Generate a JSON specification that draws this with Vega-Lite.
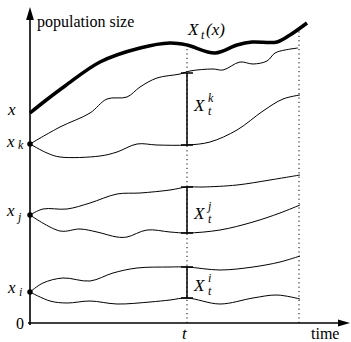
{
  "$schema": "https://vega.github.io/schema/vega-lite/v6.json",
  "width": 351,
  "height": 342,
  "autosize": {"type": "none"},
  "padding": 0,
  "config": {"view": {"stroke": null}, "text": {"font": "'Liberation Serif', 'DejaVu Serif', serif"}},
  "datasets": {
    "paths": [
      {"series": "k_up", "time": 0, "pop": 179}, {"series": "k_up", "time": 30, "pop": 196}, {"series": "k_up", "time": 60, "pop": 210}, {"series": "k_up", "time": 77, "pop": 224}, {"series": "k_up", "time": 97, "pop": 226}, {"series": "k_up", "time": 110, "pop": 236}, {"series": "k_up", "time": 127, "pop": 245}, {"series": "k_up", "time": 150, "pop": 249}, {"series": "k_up", "time": 160, "pop": 252}, {"series": "k_up", "time": 183, "pop": 254}, {"series": "k_up", "time": 193, "pop": 253}, {"series": "k_up", "time": 210, "pop": 261}, {"series": "k_up", "time": 223, "pop": 259}, {"series": "k_up", "time": 237, "pop": 262}, {"series": "k_up", "time": 245, "pop": 270}, {"series": "k_up", "time": 255, "pop": 273}, {"series": "k_up", "time": 268, "pop": 275},
      {"series": "k_lo", "time": 0, "pop": 179}, {"series": "k_lo", "time": 17, "pop": 170}, {"series": "k_lo", "time": 30, "pop": 166}, {"series": "k_lo", "time": 70, "pop": 167}, {"series": "k_lo", "time": 87, "pop": 171}, {"series": "k_lo", "time": 107, "pop": 179}, {"series": "k_lo", "time": 127, "pop": 178}, {"series": "k_lo", "time": 157, "pop": 178}, {"series": "k_lo", "time": 180, "pop": 181}, {"series": "k_lo", "time": 207, "pop": 193}, {"series": "k_lo", "time": 233, "pop": 212}, {"series": "k_lo", "time": 253, "pop": 224}, {"series": "k_lo", "time": 270, "pop": 228},
      {"series": "j_up", "time": 0, "pop": 108}, {"series": "j_up", "time": 13, "pop": 114}, {"series": "j_up", "time": 37, "pop": 114}, {"series": "j_up", "time": 60, "pop": 120}, {"series": "j_up", "time": 87, "pop": 129}, {"series": "j_up", "time": 110, "pop": 130}, {"series": "j_up", "time": 140, "pop": 133}, {"series": "j_up", "time": 157, "pop": 136}, {"series": "j_up", "time": 173, "pop": 136}, {"series": "j_up", "time": 207, "pop": 138}, {"series": "j_up", "time": 240, "pop": 143}, {"series": "j_up", "time": 270, "pop": 148},
      {"series": "j_lo", "time": 0, "pop": 108}, {"series": "j_lo", "time": 30, "pop": 92}, {"series": "j_lo", "time": 50, "pop": 94}, {"series": "j_lo", "time": 67, "pop": 91}, {"series": "j_lo", "time": 87, "pop": 86}, {"series": "j_lo", "time": 97, "pop": 86}, {"series": "j_lo", "time": 117, "pop": 93}, {"series": "j_lo", "time": 140, "pop": 91}, {"series": "j_lo", "time": 157, "pop": 90}, {"series": "j_lo", "time": 190, "pop": 93}, {"series": "j_lo", "time": 223, "pop": 101}, {"series": "j_lo", "time": 250, "pop": 110}, {"series": "j_lo", "time": 270, "pop": 118},
      {"series": "i_up", "time": 0, "pop": 31}, {"series": "i_up", "time": 13, "pop": 40}, {"series": "i_up", "time": 33, "pop": 45}, {"series": "i_up", "time": 60, "pop": 42}, {"series": "i_up", "time": 83, "pop": 50}, {"series": "i_up", "time": 107, "pop": 55}, {"series": "i_up", "time": 140, "pop": 56}, {"series": "i_up", "time": 157, "pop": 56}, {"series": "i_up", "time": 190, "pop": 53}, {"series": "i_up", "time": 223, "pop": 56}, {"series": "i_up", "time": 250, "pop": 61}, {"series": "i_up", "time": 270, "pop": 67},
      {"series": "i_lo", "time": 0, "pop": 31}, {"series": "i_lo", "time": 20, "pop": 22}, {"series": "i_lo", "time": 37, "pop": 20}, {"series": "i_lo", "time": 60, "pop": 22}, {"series": "i_lo", "time": 87, "pop": 19}, {"series": "i_lo", "time": 120, "pop": 21}, {"series": "i_lo", "time": 140, "pop": 23}, {"series": "i_lo", "time": 157, "pop": 25}, {"series": "i_lo", "time": 190, "pop": 19}, {"series": "i_lo", "time": 223, "pop": 25}, {"series": "i_lo", "time": 247, "pop": 28}, {"series": "i_lo", "time": 270, "pop": 24}
    ],
    "thick": [
      {"time": 0, "pop": 210}, {"time": 15, "pop": 222}, {"time": 35, "pop": 237}, {"time": 70, "pop": 261}, {"time": 110, "pop": 275}, {"time": 140, "pop": 280}, {"time": 157, "pop": 278}, {"time": 185, "pop": 270}, {"time": 207, "pop": 278}, {"time": 222, "pop": 281}, {"time": 247, "pop": 281}, {"time": 260, "pop": 288}, {"time": 277, "pop": 300}
    ],
    "bars": [
      {"name": "k", "time": 157, "lo": 178, "hi": 250},
      {"name": "j", "time": 157, "lo": 90, "hi": 136},
      {"name": "i", "time": 157, "lo": 25, "hi": 56}
    ],
    "starts": [
      {"name": "k", "time": 0, "pop": 179},
      {"name": "j", "time": 0, "pop": 108},
      {"name": "i", "time": 0, "pop": 31}
    ],
    "guides": [
      {"time": 157, "bottom": 0, "top": 276},
      {"time": 269, "bottom": 0, "top": 293}
    ],
    "axes": [
      {"axis": "population", "x1": 0, "x2": 0, "y1": -2, "y2": 305},
      {"axis": "time", "x1": -2, "x2": 309, "y1": 0, "y2": 0}
    ],
    "labels": [
      {"text": "population size", "time": 7, "pop": 296, "role": "roman"},
      {"text": "0", "time": -14, "pop": -6, "role": "roman"},
      {"text": "time", "time": 281, "pop": -16, "role": "roman"},
      {"text": "t", "time": 152, "pop": -16, "role": "math"},
      {"text": "x", "time": -22, "pop": 208, "role": "math"},
      {"text": "x", "time": -23, "pop": 176, "role": "math"},
      {"text": "k", "time": -12, "pop": 174, "role": "script"},
      {"text": "x", "time": -23, "pop": 107, "role": "math"},
      {"text": "j", "time": -12, "pop": 102, "role": "script"},
      {"text": "x", "time": -22, "pop": 30, "role": "math"},
      {"text": "i", "time": -11, "pop": 27, "role": "script"},
      {"text": "X", "time": 158, "pop": 288, "role": "math"},
      {"text": "t", "time": 171, "pop": 284, "role": "script"},
      {"text": "(x)", "time": 176, "pop": 288, "role": "math"},
      {"text": "X", "time": 164, "pop": 212, "role": "math"},
      {"text": "k", "time": 178, "pop": 221, "role": "script"},
      {"text": "t", "time": 178, "pop": 208, "role": "script"},
      {"text": "X", "time": 164, "pop": 104, "role": "math"},
      {"text": "j", "time": 178, "pop": 113, "role": "script"},
      {"text": "t", "time": 178, "pop": 100, "role": "script"},
      {"text": "X", "time": 164, "pop": 32, "role": "math"},
      {"text": "i", "time": 178, "pop": 41, "role": "script"},
      {"text": "t", "time": 178, "pop": 28, "role": "script"}
    ],
    "arrows": [
      {"dir": "up", "time": 0, "pop": 309.5},
      {"dir": "right", "time": 314, "pop": 0}
    ]
  },
  "layer": [
    {
      "data": {"name": "guides"},
      "mark": {"type": "rule", "color": "black", "strokeWidth": 1, "strokeDash": [1.2, 3.2]},
      "encoding": {
        "x": {"field": "time", "type": "quantitative", "scale": {"domain": [-30, 321], "nice": false, "zero": false}, "axis": null},
        "y": {"field": "bottom", "type": "quantitative", "scale": {"domain": [-19, 323], "nice": false, "zero": false}, "axis": null},
        "y2": {"field": "top"}
      }
    },
    {
      "data": {"name": "axes"},
      "mark": {"type": "rule", "color": "black", "strokeWidth": 1.6},
      "encoding": {
        "x": {"field": "x1", "type": "quantitative"},
        "x2": {"field": "x2"},
        "y": {"field": "y1", "type": "quantitative"},
        "y2": {"field": "y2"}
      }
    },
    {
      "data": {"name": "arrows"},
      "transform": [{"filter": "datum.dir === 'up'"}],
      "mark": {"type": "point", "shape": "M-0.6,1L0,-1L0.6,1Z", "filled": true, "color": "black", "opacity": 1, "size": 169},
      "encoding": {
        "x": {"field": "time", "type": "quantitative"},
        "y": {"field": "pop", "type": "quantitative"}
      }
    },
    {
      "data": {"name": "arrows"},
      "transform": [{"filter": "datum.dir === 'right'"}],
      "mark": {"type": "point", "shape": "M-1,-0.6L1,0L-1,0.6Z", "filled": true, "color": "black", "opacity": 1, "size": 144},
      "encoding": {
        "x": {"field": "time", "type": "quantitative"},
        "y": {"field": "pop", "type": "quantitative"}
      }
    },
    {
      "data": {"name": "paths"},
      "mark": {"type": "line", "color": "black", "strokeWidth": 1, "interpolate": "catmull-rom"},
      "encoding": {
        "x": {"field": "time", "type": "quantitative"},
        "y": {"field": "pop", "type": "quantitative"},
        "detail": {"field": "series"}
      }
    },
    {
      "data": {"name": "thick"},
      "mark": {"type": "line", "color": "black", "strokeWidth": 3.5, "interpolate": "catmull-rom"},
      "encoding": {
        "x": {"field": "time", "type": "quantitative"},
        "y": {"field": "pop", "type": "quantitative"}
      }
    },
    {
      "data": {"name": "bars"},
      "mark": {"type": "rule", "color": "black", "strokeWidth": 1.5},
      "encoding": {
        "x": {"field": "time", "type": "quantitative"},
        "y": {"field": "lo", "type": "quantitative"},
        "y2": {"field": "hi"}
      }
    },
    {
      "data": {"name": "bars"},
      "transform": [{"fold": ["lo", "hi"], "as": ["end", "value"]}],
      "mark": {"type": "point", "shape": "M-1,0L1,0", "filled": false, "color": "black", "opacity": 1, "strokeWidth": 1.5, "size": 144},
      "encoding": {
        "x": {"field": "time", "type": "quantitative"},
        "y": {"field": "value", "type": "quantitative"}
      }
    },
    {
      "data": {"name": "starts"},
      "mark": {"type": "point", "shape": "circle", "filled": true, "color": "black", "opacity": 1, "size": 30},
      "encoding": {
        "x": {"field": "time", "type": "quantitative"},
        "y": {"field": "pop", "type": "quantitative"}
      }
    },
    {
      "data": {"name": "labels"},
      "transform": [{"filter": "datum.role === 'roman'"}],
      "mark": {"type": "text", "align": "left", "baseline": "alphabetic", "font": "'Liberation Serif', 'DejaVu Serif', serif", "fontSize": 16, "color": "black"},
      "encoding": {
        "x": {"field": "time", "type": "quantitative"},
        "y": {"field": "pop", "type": "quantitative"},
        "text": {"field": "text"}
      }
    },
    {
      "data": {"name": "labels"},
      "transform": [{"filter": "datum.role === 'math'"}],
      "mark": {"type": "text", "align": "left", "baseline": "alphabetic", "font": "'Liberation Serif', 'DejaVu Serif', serif", "fontStyle": "italic", "fontSize": 17, "color": "black"},
      "encoding": {
        "x": {"field": "time", "type": "quantitative"},
        "y": {"field": "pop", "type": "quantitative"},
        "text": {"field": "text"}
      }
    },
    {
      "data": {"name": "labels"},
      "transform": [{"filter": "datum.role === 'script'"}],
      "mark": {"type": "text", "align": "left", "baseline": "alphabetic", "font": "'Liberation Serif', 'DejaVu Serif', serif", "fontStyle": "italic", "fontSize": 12, "color": "black"},
      "encoding": {
        "x": {"field": "time", "type": "quantitative"},
        "y": {"field": "pop", "type": "quantitative"},
        "text": {"field": "text"}
      }
    }
  ]
}
